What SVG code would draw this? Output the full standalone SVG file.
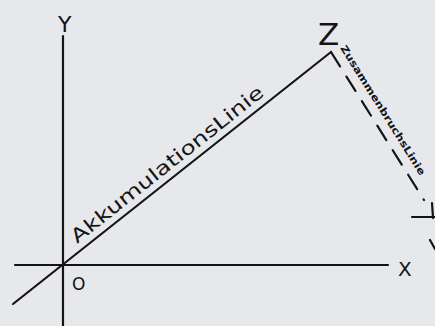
<svg xmlns="http://www.w3.org/2000/svg" width="435" height="326" viewBox="0 0 435 326">
<style>
.ln{stroke:#141414;stroke-width:2.2;fill:none;stroke-linecap:round}
.hw{font-family:"DejaVu Sans","Liberation Sans",sans-serif;fill:#141414}
</style>
<rect width="435" height="326" fill="#e7e8ec"/>
<g id="axes">
<line class="ln" x1="63" y1="36" x2="63" y2="326"/>
<line class="ln" x1="15" y1="265" x2="388" y2="265"/>
<text class="hw" x="58" y="32" font-size="22">Y</text>
<text class="hw" x="398" y="276" font-size="20">X</text>
<text class="hw" x="72" y="290" font-size="17">O</text>
</g>
<g id="connectors">
<path id="akk-line" class="ln" d="M13,304 L331,52"/>
<path id="zus-line" class="ln" d="M331,52 L424,200" stroke-dasharray="17 12"/>
<path class="ln" d="M412,217 L435,217 M432,203 L433,218 M430,240 L435,249"/>
</g>
<g id="z-node">
<text class="hw" x="318" y="45" font-size="31">Z</text>
</g>
<g id="akk-label">
<text class="hw" font-size="19" transform="translate(77,244) rotate(-38.4)" textLength="240" lengthAdjust="spacingAndGlyphs">AkkumulationsLinie</text>
</g>
<g id="zus-label">
<text class="hw" font-size="10" font-weight="bold" transform="translate(340,48) rotate(58)" textLength="151" lengthAdjust="spacingAndGlyphs">ZusammenbruchsLinie</text>
</g>
</svg>
